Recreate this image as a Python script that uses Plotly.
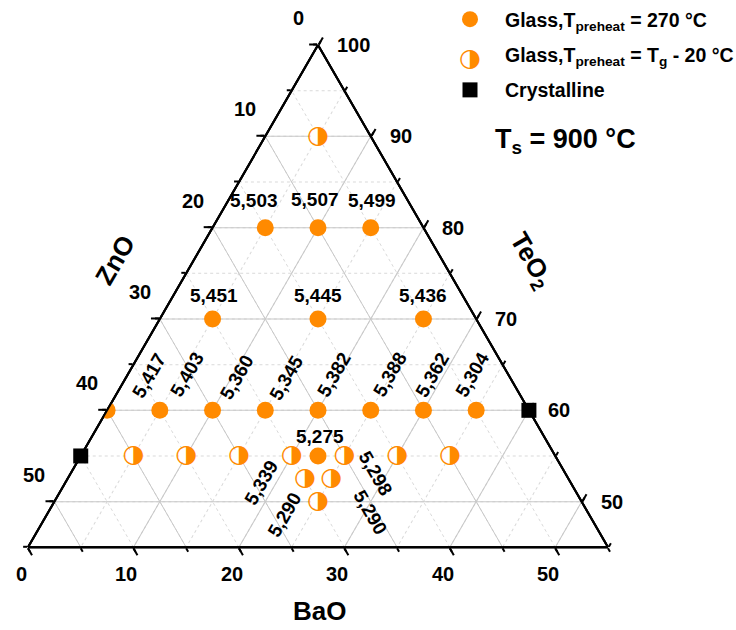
import math
import plotly.graph_objects as go

# ---------------- data (mol%) ----------------
# Glass, T_preheat = 270 °C
g270_teo2 = [80, 80, 80, 70, 70, 70, 60, 60, 60, 60, 60, 60, 60, 60, 55]
g270_zno = [15, 10, 5, 25, 15, 5, 40, 35, 30, 25, 20, 15, 10, 5, 22.5]
g270_bao = [5, 10, 15, 5, 15, 25, 0, 5, 10, 15, 20, 25, 30, 35, 22.5]
g270_density = ["5,503", "5,507", "5,499", "5,451", "5,445", "5,436",
                "5,417", "5,403", "5,360", "5,345", "5,382", "5,388", "5,362", "5,304",
                "5,275"]

# Glass, T_preheat = Tg - 20 °C
gtg_teo2 = [90, 55, 55, 55, 55, 55, 55, 55, 52.5, 52.5, 50]
gtg_zno = [5, 40, 35, 30, 25, 20, 15, 10, 25, 22.5, 25]
gtg_bao = [5, 5, 10, 15, 20, 25, 30, 35, 22.5, 25, 25]
gtg_density = ["", "", "", "", "5,339", "5,298", "", "", "5,290", "5,290", ""]

# Crystalline
cr_teo2 = [60, 55]
cr_zno = [0, 45]
cr_bao = [40, 0]

# axis tick values / labels
a_major = [50, 60, 70, 80, 90, 100]
a_major_text = ["50", "40", "30", "20", "10", "0"]          # ZnO read on left edge
c_major = [0, 10, 20, 30, 40, 50]
c_major_text = ["100", "90", "80", "70", "60", "50"]        # TeO2 read on right edge
b_major_bottom = [55, 45, 35, 25, 15, 5]
b_major_bottom_text = ["0", "10", "20", "30", "40", "50"]   # BaO read on bottom edge
b_major_grid = [10, 20, 30, 40, 50]
a_minor = [45 + 5 * i for i in range(12)]
bc_minor = [5 * i for i in range(12)]

# ---------------- styles ----------------
ORANGE = "#FF8A00"
FONT = "Liberation Sans"
W, H = 736, 630
TRI_LEFT, TRI_RIGHT, TRI_TOP = 28, 608, 45
TRI_W = TRI_RIGHT - TRI_LEFT
TRI_H = TRI_W * math.sqrt(3) / 2
SUM, A_MIN = 100, 45
SPAN = SUM - A_MIN
DOMAIN = dict(x=[TRI_LEFT / W, TRI_RIGHT / W],
              y=[1 - (TRI_TOP + TRI_H) / H, 1 - TRI_TOP / H])

# label style (angle, pixel shift) for each density label
g270_lab_angle = [0, 0, 0, 0, 0, 0, -60, -60, -60, -60, -60, -60, -60, -60, 0]
g270_lab_dx = [-11, -3, 1, 1, 0, 0, 42, 27, 24, 21, 16, 19, 9, -4, 2]
g270_lab_dy = [-27, -28, -27, -23, -23, -23, -35, -36, -33, -33, -36, -36, -36, -36, -19]
gtg_lab_angle = [0, 0, 0, 0, -60, 60, 0, 0, -60, 60, 0]
gtg_lab_dx = [0, 0, 0, 0, -30, 31, 0, 0, -20, 39, 0]
gtg_lab_dy = [0, 0, 0, 0, 27, 18, 0, 0, 36, 34, 0]


def tern_to_paper(a, b, c):
    fa = (a - A_MIN) / SPAN
    fc = c / SPAN
    px = TRI_LEFT + TRI_W * (fc + fa / 2)
    py = TRI_TOP + TRI_H * (1 - fa)
    return px / W, 1 - py / H


def ax(**kw):
    base = dict(title=dict(text=""), showline=True, linecolor="black", linewidth=2,
                tickcolor="black", tickwidth=1.5, tickmode="array", showticklabels=False)
    base.update(kw)
    return base


NOGRID = dict(showgrid=False)
MINOR_GRID = dict(showgrid=True, gridcolor="#d9d9d9", gridwidth=1, griddash="dot")
MAJOR_GRID = dict(showgrid=True, gridcolor="#c8c8c8", gridwidth=1, griddash="solid")

fig = go.Figure()

# invisible carriers so the two grid layers (ternary, ternary2) are drawn
for sp in ["ternary", "ternary2"]:
    fig.add_trace(go.Scatterternary(
        subplot=sp, a=g270_teo2[:1], b=g270_zno[:1], c=g270_bao[:1], mode="markers",
        marker=dict(size=1, opacity=0), showlegend=False, hoverinfo="skip"))

# ---- data traces (top-most ternary) ----
fig.add_trace(go.Scatterternary(
    subplot="ternary3", a=g270_teo2, b=g270_zno, c=g270_bao, mode="markers",
    marker=dict(symbol="circle", size=17, color=ORANGE, line=dict(width=0)),
    name="Glass,T<sub>preheat</sub> = 270 °C", legendgroup="g1", cliponaxis=True,
    hoverinfo="skip"))
fig.add_trace(go.Scatterternary(
    subplot="ternary3", a=gtg_teo2, b=gtg_zno, c=gtg_bao, mode="markers",
    marker=dict(symbol="circle", size=15, color="white", line=dict(width=0)),
    name="Glass,T<sub>preheat</sub> = T<sub>g</sub> - 20 °C", legendgroup="g2",
    hoverinfo="skip"))
fig.add_trace(go.Scatterternary(
    subplot="ternary3", a=gtg_teo2, b=gtg_zno, c=gtg_bao, mode="text",
    text=["◑"] * len(gtg_teo2), textposition="middle center",
    textfont=dict(family="DejaVu Sans", size=25, color=ORANGE),
    showlegend=False, legendgroup="g2", hoverinfo="skip"))
fig.add_trace(go.Scatterternary(
    subplot="ternary3", a=cr_teo2, b=cr_zno, c=cr_bao, mode="markers",
    marker=dict(symbol="square", size=15, color="black", line=dict(width=0)),
    name="Crystalline", legendgroup="g3", cliponaxis=False, hoverinfo="skip"))

annotations = []


def note(x, y, text, size, angle=0, xanchor="center", dx=0, dy=0, color="black", family=FONT):
    annotations.append(dict(x=x, y=y, xref="paper", yref="paper", text=text,
                            showarrow=False, textangle=angle, xanchor=xanchor,
                            yanchor="middle", xshift=dx, yshift=-dy,
                            font=dict(family=family, size=size, color=color, weight="bold")))


def add_labels(A, B, C, texts, angles, dxs, dys):
    for a, b, c, t, ang, dx, dy in zip(A, B, C, texts, angles, dxs, dys):
        if t:
            x, y = tern_to_paper(a, b, c)
            note(x, y, t, 19, angle=ang, dx=dx, dy=dy)


add_labels(g270_teo2, g270_zno, g270_bao, g270_density, g270_lab_angle, g270_lab_dx, g270_lab_dy)
add_labels(gtg_teo2, gtg_zno, gtg_bao, gtg_density, gtg_lab_angle, gtg_lab_dx, gtg_lab_dy)

# tick labels, placed at the tick positions of each edge
for v, t in zip(a_major, a_major_text):            # left edge: ZnO
    x, y = tern_to_paper(v, SUM - v, 0)
    note(x, y, t, 20, dx=-20, dy=-27)
for v, t in zip(c_major, c_major_text):            # right edge: TeO2
    x, y = tern_to_paper(SUM - v, 0, v)
    note(x, y, t, 20, xanchor="left", dx=17, dy=0)
for v, t in zip(b_major_bottom, b_major_bottom_text):  # bottom edge: BaO
    x, y = tern_to_paper(A_MIN, v, SPAN - v)
    note(x, y, t, 20, dx=-7, dy=27)


def txt(text, px, py, size, angle=0, color="black", family=FONT):
    note(px / W, 1 - py / H, text, size, angle=angle, color=color, family=family)


txt("ZnO", 115, 260, 26, angle=-60)
txt("TeO<sub>2</sub>", 531, 260, 26, angle=60)
txt("BaO", 319, 611, 26)
txt("T<sub>s</sub> = 900 °C", 565, 141, 27)
# half-filled symbol for the legend entry
txt("◑", 470, 57, 25, color=ORANGE, family="DejaVu Sans")

fig.update_layout(
    width=W, height=H, margin=dict(l=0, r=0, t=0, b=0, autoexpand=False),
    paper_bgcolor="white", plot_bgcolor="white",
    font=dict(family=FONT, size=20, color="black", weight="bold"),
    showlegend=True,
    legend=dict(x=435 / W, xanchor="left", y=1, yanchor="top", itemwidth=60,
                bgcolor="rgba(0,0,0,0)", tracegroupgap=7,
                font=dict(family=FONT, size=19.5, color="black", weight="bold")),
    ternary=dict(sum=SUM, domain=DOMAIN, bgcolor="white",
                 aaxis=ax(min=A_MIN, tickvals=a_minor, ticks="outside", ticklen=4, **MINOR_GRID),
                 baxis=ax(min=0, tickvals=bc_minor, ticks="outside", ticklen=4, **MINOR_GRID),
                 caxis=ax(min=0, tickvals=bc_minor, ticks="outside", ticklen=4, **MINOR_GRID)),
    ternary2=dict(sum=SUM, domain=DOMAIN, bgcolor="rgba(0,0,0,0)",
                  aaxis=ax(min=A_MIN, tickvals=a_major, ticks="outside", ticklen=8, **MAJOR_GRID),
                  baxis=ax(min=0, tickvals=b_major_grid, ticks="", **MAJOR_GRID),
                  caxis=ax(min=0, tickvals=c_major, ticks="outside", ticklen=8, **MAJOR_GRID)),
    ternary3=dict(sum=SUM, domain=DOMAIN, bgcolor="rgba(0,0,0,0)",
                  aaxis=ax(min=A_MIN, tickvals=a_major, ticks="", **NOGRID),
                  baxis=ax(min=0, tickvals=b_major_bottom, ticks="outside", ticklen=8, **NOGRID),
                  caxis=ax(min=0, tickvals=c_major, ticks="", **NOGRID)),
    annotations=annotations,
)

fig.write_html("out.html")
